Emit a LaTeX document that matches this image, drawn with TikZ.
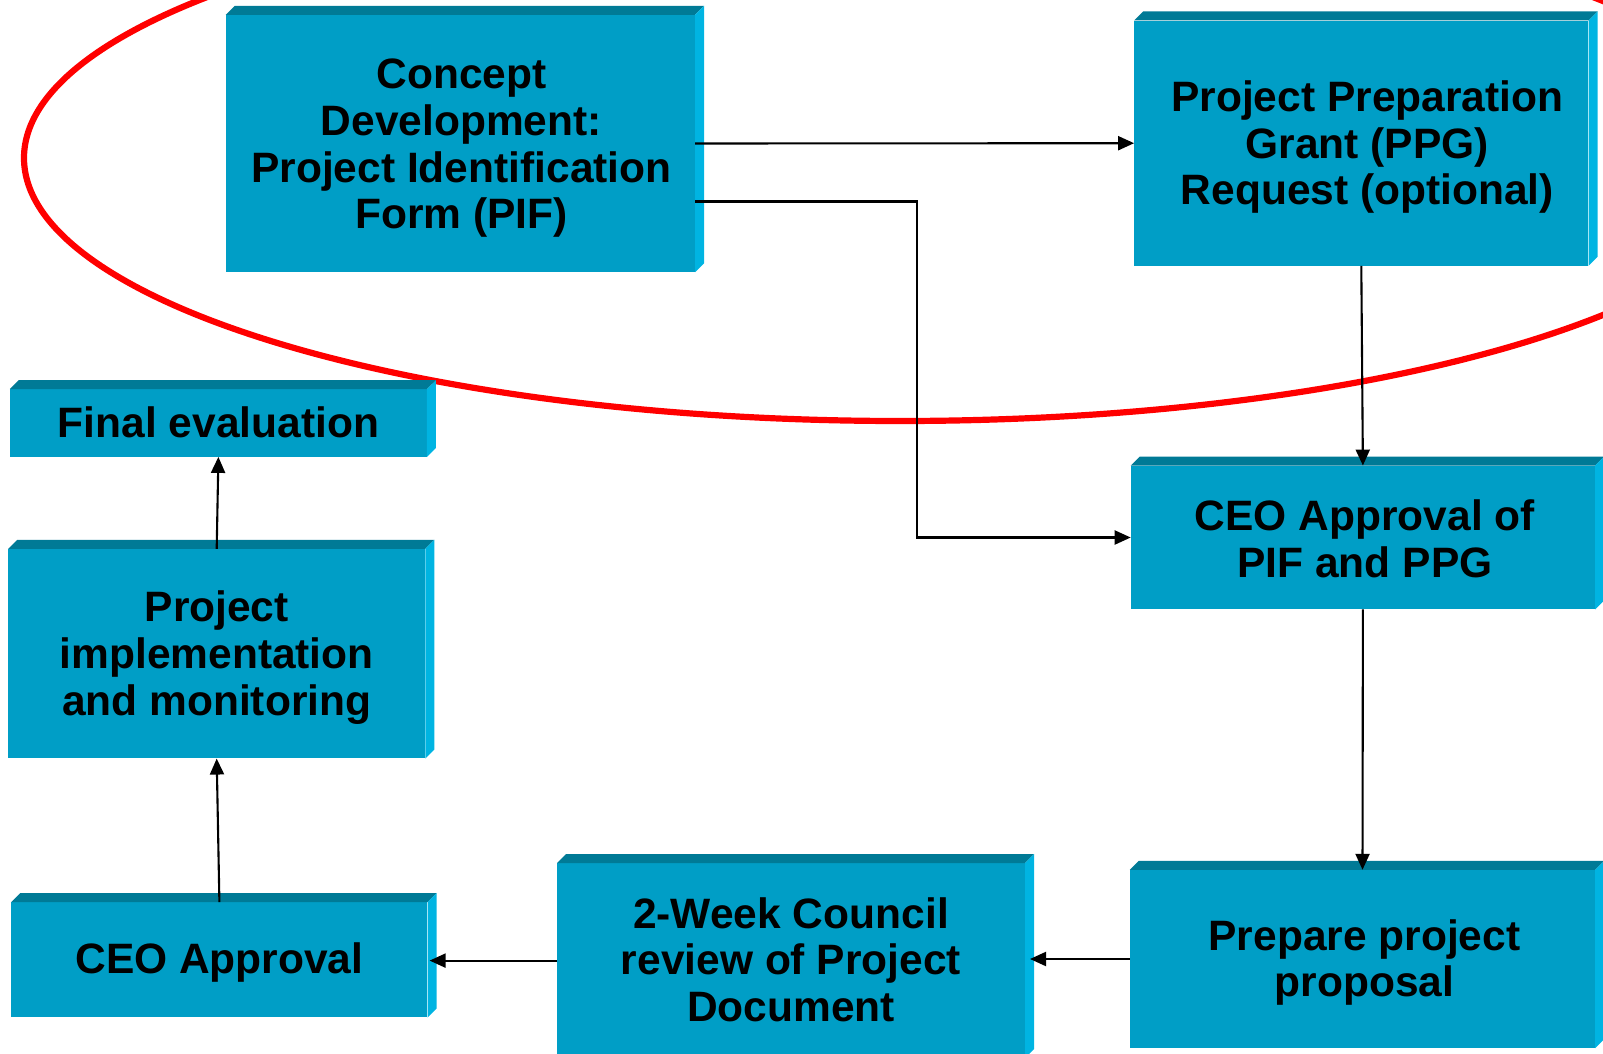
\documentclass[tikz,border=0pt]{standalone}
\usepackage{fontspec}
\setmainfont{Liberation Sans}
\usetikzlibrary{arrows.meta,calc}
\definecolor{frontc}{RGB}{0,158,198}
\definecolor{topc}{RGB}{0,122,150}
\definecolor{sidec}{RGB}{0,180,226}
\newcommand\boxfaces[1]{%
  \fill[topc] (#1.north west) -- ++(9,-9) -- ([shift={(9,-9)}]#1.north east) -- (#1.north east) -- cycle;
  \fill[sidec] (#1.north east) -- ++(9,-9) -- ([shift={(9,-9)}]#1.south east) -- (#1.south east) -- cycle;}
\begin{document}
\begin{tikzpicture}[x=1pt,y=-1pt,
  stepbox/.style={fill=frontc, inner sep=0pt},
  steptext/.style={inner sep=0pt, align=center,
    font=\fontsize{42.5}{46.7}\selectfont\bfseries},
  arr/.style={draw=black, line width=2.1pt, -{Triangle[length=16pt,width=14pt]}}]
\useasboundingbox (0,0) rectangle (1603,1054);
\clip (0,0) rectangle (1603,1054);
\draw[red, line width=6.2pt] (900,158) ellipse [x radius=876pt, y radius=263pt];

\node[stepbox, minimum width=469pt, minimum height=257pt] (pif) at (460.4,143.5) {};
\node[stepbox, minimum width=454pt, minimum height=245pt] (ppg) at (1361.3,143.2) {};
\node[stepbox, minimum width=464pt, minimum height=143.5pt] (ceopif) at (1362.9,537.5) {};
\node[stepbox, minimum width=465pt, minimum height=178pt] (prep) at (1362.5,959) {};
\node[stepbox, minimum width=467.6pt, minimum height=194.7pt] (council) at (791,960.6) {};
\node[stepbox, minimum width=416pt, minimum height=115pt] (ceoa) at (219.4,959.8) {};
\node[stepbox, minimum width=416.7pt, minimum height=209.3pt] (impl) at (216.7,653.7) {};
\node[stepbox, minimum width=416.7pt, minimum height=67.4pt] (final) at (218.4,423) {};

\boxfaces{pif}
\boxfaces{ppg}
\boxfaces{ceopif}
\boxfaces{prep}
\boxfaces{council}
\boxfaces{ceoa}
\boxfaces{impl}
\boxfaces{final}

\node[steptext] (pift) at ([yshift=-5pt,xshift=1pt]pif.center)
  {Concept\\Development:\\Project Identification\\Form (PIF)};
\node[steptext] (ppgt) at ([yshift=-4pt,xshift=6pt]ppg.center)
  {Project Preparation\\Grant (PPG)\\Request (optional)};
\node[steptext] (ceopift) at ([yshift=-1pt,xshift=2pt]ceopif.center)
  {CEO Approval of\\PIF and PPG};
\node[steptext] (prept) at ([yshift=-3.5pt,xshift=2pt]prep.center)
  {Prepare project\\proposal};
\node[steptext] (councilt) at ([yshift=1pt]council.center)
  {2-Week Council\\review of Project\\Document};
\node[steptext] (ceoat) at ([yshift=-3pt]ceoa.center)
  {CEO Approval};
\node[steptext] (implt) at ([yshift=-4pt]impl.center)
  {Project\\implementation\\and monitoring};
\node[steptext] (finalt) at ([yshift=1pt]final.center)
  {Final evaluation};

\coordinate (bx) at (917,0);
\draw[arr] (pif.east) -- (ppg.west);
\draw[arr] ([yshift=-58pt]pif.east) -| (bx |- ceopif.west) -- (ceopif.west);
\draw[arr] (ppg.south) -- (ceopif.north);
\draw[arr] (ceopif.south) -- (prep.north);
\draw[arr] (prep.west) -- ($(council.east |- prep.west)+(5,0)$);
\draw[arr] (council.west) -- ($(ceoa.east |- council.west)+(2,0)$);
\draw[arr] (ceoa.north) -- (impl.south);
\draw[arr] (impl.north) -- (final.south);
\end{tikzpicture}
\end{document}
